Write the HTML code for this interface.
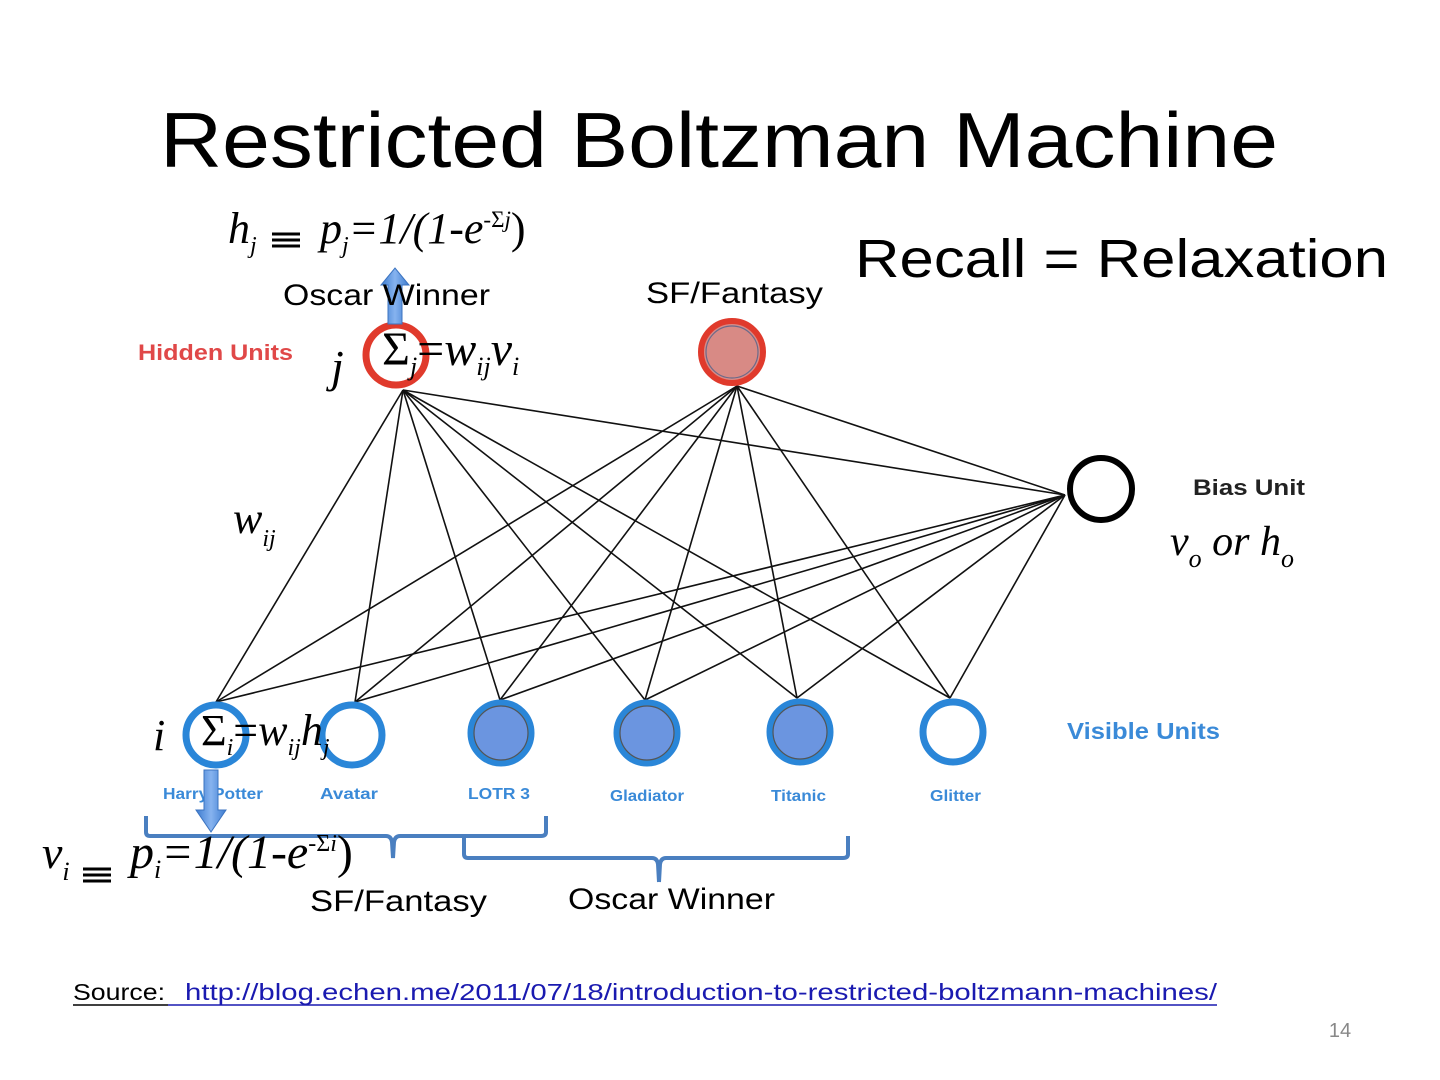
<!DOCTYPE html>
<html><head><meta charset="utf-8"><style>
html,body{margin:0;padding:0;background:#fff;}
svg{display:block;}
.s{font-family:"Liberation Sans",sans-serif;}
.m{font-family:"Liberation Serif",serif;font-style:italic;}
.lbl{font-family:"Liberation Sans",sans-serif;font-weight:bold;}
</style></head><body>
<svg width="1440" height="1080" viewBox="0 0 1440 1080" xmlns="http://www.w3.org/2000/svg">
<text x="160" y="167" textLength="1118" lengthAdjust="spacingAndGlyphs" class="s" font-size="78" fill="#000">Restricted Boltzman Machine</text>
<text x="855" y="277" textLength="533" lengthAdjust="spacingAndGlyphs" class="s" font-size="54" fill="#000">Recall = Relaxation</text>

<g stroke="#111" stroke-width="1.6">
<line x1="403" y1="390" x2="216" y2="702"/><line x1="403" y1="390" x2="355" y2="702"/><line x1="403" y1="390" x2="500" y2="700"/><line x1="403" y1="390" x2="645" y2="700"/><line x1="403" y1="390" x2="797" y2="698"/><line x1="403" y1="390" x2="950" y2="698"/><line x1="403" y1="390" x2="1065" y2="495"/>
<line x1="737" y1="386" x2="216" y2="702"/><line x1="737" y1="386" x2="355" y2="702"/><line x1="737" y1="386" x2="500" y2="700"/><line x1="737" y1="386" x2="645" y2="700"/><line x1="737" y1="386" x2="797" y2="698"/><line x1="737" y1="386" x2="950" y2="698"/><line x1="737" y1="386" x2="1065" y2="495"/>
<line x1="1065" y1="495" x2="216" y2="702"/><line x1="1065" y1="495" x2="355" y2="702"/><line x1="1065" y1="495" x2="500" y2="700"/><line x1="1065" y1="495" x2="645" y2="700"/><line x1="1065" y1="495" x2="797" y2="698"/><line x1="1065" y1="495" x2="950" y2="698"/>
</g>

<circle cx="396" cy="355" r="30" fill="#fff" stroke="#e03a2c" stroke-width="7"/>
<circle cx="732" cy="352" r="31" fill="#d88a85" stroke="#e03a2c" stroke-width="6"/>
<circle cx="732" cy="352" r="26" fill="none" stroke="#6a6a8a" stroke-width="1.2"/>
<circle cx="1101" cy="489" r="31" fill="#fff" stroke="#000" stroke-width="6"/>

<g stroke="#2a86d8" stroke-width="7">
<circle cx="216" cy="735" r="30" fill="#fff"/>
<circle cx="352" cy="735" r="30" fill="#fff"/>
<circle cx="501" cy="733" r="30" fill="#6b95e0"/>
<circle cx="647" cy="733" r="30" fill="#6b95e0"/>
<circle cx="800" cy="732" r="30" fill="#6b95e0"/>
<circle cx="953" cy="732" r="30" fill="#fff"/>
</g>
<g fill="none" stroke="#555" stroke-width="1.2">
<circle cx="501" cy="733" r="27"/><circle cx="647" cy="733" r="27"/><circle cx="800" cy="732" r="27"/>
</g>

<text x="138" y="360" textLength="155" lengthAdjust="spacingAndGlyphs" class="lbl" font-size="22" fill="#e04848">Hidden Units</text>
<text x="1193" y="495" textLength="112" lengthAdjust="spacingAndGlyphs" class="lbl" font-size="22" fill="#222">Bias Unit</text>
<text x="1067" y="739" textLength="153" lengthAdjust="spacingAndGlyphs" class="lbl" font-size="23" fill="#3a8ad8">Visible Units</text>
<g class="lbl" font-size="16" fill="#3a8ad8">
<text x="163" y="799" textLength="100" lengthAdjust="spacingAndGlyphs">Harry Potter</text>
<text x="320" y="799" textLength="58" lengthAdjust="spacingAndGlyphs">Avatar</text>
<text x="468" y="799" textLength="62" lengthAdjust="spacingAndGlyphs">LOTR 3</text>
<text x="610" y="801" textLength="74" lengthAdjust="spacingAndGlyphs">Gladiator</text>
<text x="771" y="801" textLength="55" lengthAdjust="spacingAndGlyphs">Titanic</text>
<text x="930" y="801" textLength="51" lengthAdjust="spacingAndGlyphs">Glitter</text>
</g>

<defs><linearGradient id="g" x1="0" x2="1"><stop offset="0" stop-color="#3d7cd0"/><stop offset="0.5" stop-color="#86b3ef"/><stop offset="1" stop-color="#3d7cd0"/></linearGradient></defs>
<polygon points="388,324 388,285 381,285 395,268 409,285 402,285 402,324" fill="url(#g)" stroke="#3b73c0" stroke-width="1"/>
<polygon points="204,770 218,770 218,810 226,810 211,832 196,810 204,810" fill="url(#g)" stroke="#3b73c0" stroke-width="1"/>

<g fill="none" stroke="#4a7fc0" stroke-width="4" stroke-linejoin="round">
<path d="M146,816 L146,832 Q146,836 150,836 L386,836 Q391,836 392,842 L393,858 M393,858 L394,842 Q395,836 400,836 L541,836 Q546,836 546,832 L546,816"/>
<path d="M464,837 L464,854 Q464,858 468,858 L652,858 Q657,858 658,864 L659,882 M659,882 L660,864 Q661,858 666,858 L843,858 Q848,858 848,854 L848,836"/>
</g>

<text x="283" y="305" textLength="207" lengthAdjust="spacingAndGlyphs" class="s" font-size="30" fill="#000">Oscar Winner</text>
<text x="646" y="303" textLength="177" lengthAdjust="spacingAndGlyphs" class="s" font-size="30" fill="#000">SF/Fantasy</text>
<text x="310" y="911" textLength="177" lengthAdjust="spacingAndGlyphs" class="s" font-size="30" fill="#000">SF/Fantasy</text>
<text x="568" y="909" textLength="207" lengthAdjust="spacingAndGlyphs" class="s" font-size="30" fill="#000">Oscar Winner</text>

<g class="m" fill="#000">
<text x="228" y="243" font-size="44">h<tspan font-size="24" dy="10">j</tspan></text>
<text x="320" y="243" font-size="44">p<tspan font-size="24" dy="10">j</tspan><tspan dy="-10">=1/(1-e</tspan><tspan font-size="23" dy="-16" font-style="normal">-Σ</tspan><tspan font-size="23">j</tspan><tspan dy="16" font-style="normal">)</tspan></text>
<text x="331" y="382" font-size="46">j</text>
<text x="382" y="365" font-size="48"><tspan font-style="normal">Σ</tspan><tspan font-size="26" dy="10">j</tspan><tspan dy="-10" font-style="normal">=</tspan>w<tspan font-size="26" dy="10">ij</tspan><tspan dy="-10">v</tspan><tspan font-size="26" dy="10">i</tspan></text>
<text x="233" y="533" font-size="44">w<tspan font-size="24" dy="13">ij</tspan></text>
<text x="1170" y="555" font-size="42">v<tspan font-size="26" dy="12">o</tspan><tspan dy="-12"> or h</tspan><tspan font-size="26" dy="12">o</tspan></text>
<text x="153" y="750" font-size="44">i</text>
<text x="201" y="745" font-size="44"><tspan font-style="normal">Σ</tspan><tspan font-size="24" dy="10">i</tspan><tspan dy="-10" font-style="normal">=</tspan>w<tspan font-size="24" dy="10">ij</tspan><tspan dy="-10">h</tspan><tspan font-size="24" dy="10">j</tspan></text>
<text x="42" y="868" font-size="46">v<tspan font-size="26" dy="12">i</tspan></text>
<text x="130" y="868" font-size="48">p<tspan font-size="26" dy="10">i</tspan><tspan dy="-10">=1/(1-e</tspan><tspan font-size="24" dy="-17" font-style="normal">-Σ</tspan><tspan font-size="24">i</tspan><tspan dy="17" font-style="normal">)</tspan></text>
</g>
<g stroke="#000" stroke-width="3">
<line x1="272" y1="234" x2="300" y2="234"/><line x1="272" y1="240" x2="300" y2="240"/><line x1="272" y1="246" x2="300" y2="246"/>
<line x1="83" y1="869" x2="111" y2="869"/><line x1="83" y1="875" x2="111" y2="875"/><line x1="83" y1="881" x2="111" y2="881"/>
</g>

<text x="73" y="1000" textLength="92" lengthAdjust="spacingAndGlyphs" class="s" font-size="23" fill="#000">Source:</text>
<line x1="73" y1="1005" x2="168" y2="1005" stroke="#000" stroke-width="1.5"/>
<text x="185" y="1000" textLength="1032" lengthAdjust="spacingAndGlyphs" class="s" font-size="23" fill="#1a1ab0">http://blog.echen.me/2011/07/18/introduction-to-restricted-boltzmann-machines/</text>
<line x1="168" y1="1005" x2="1217" y2="1005" stroke="#1a1ab0" stroke-width="1.5"/>
<text x="1340" y="1037" text-anchor="middle" class="s" font-size="20" fill="#888">14</text>
</svg>
</body></html>
